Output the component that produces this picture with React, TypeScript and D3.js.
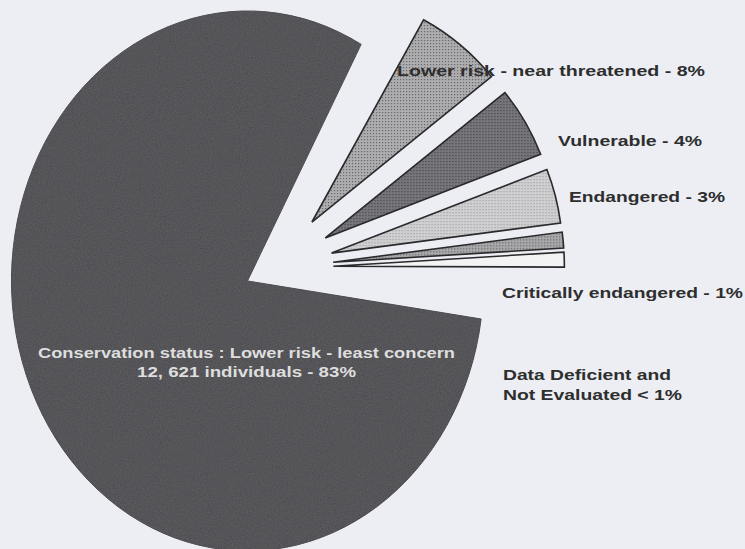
import * as d3 from 'd3';

// conservation status categories, in pie order
const statusLabels = [
  'Lower risk - least concern',
  'Lower risk - near threatened',
  'Vulnerable',
  'Endangered',
  'Critically endangered',
  'Data Deficient and Not Evaluated',
];

// share of the circle each slice takes up as drawn (%)
const drawnShares = [80.75, 6.14, 4.94, 3.81, 1.11, 1.03];

const labelLines = [
  ['Conservation status : Lower risk - least concern', '12, 621 individuals - 83%'],
  ['Lower risk - near threatened - 8%'],
  ['Vulnerable - 4%'],
  ['Endangered - 3%'],
  ['Critically endangered - 1%'],
  ['Data Deficient and', 'Not Evaluated < 1%'],
];

const W = 745;
const H = 549;
const deg = Math.PI / 180;

const center: [number, number] = [273.4, 268];
const mainRadius = 236;
const mainStretchY = 1.144; // the main disc is a little taller than wide
const mainExplode = 29;
const fanRadius = 231;
const fanExplode = 60;

const fills = ['#47474c', 'url(#dotLight)', 'url(#dotDark)', 'url(#dotPale)', 'url(#dotMid)', '#f3f3f3'];

const labelLayout = [
  { x: 246.5, y: 358, anchor: 'middle', widths: [417, 219], color: '#dedede', size: 14 },
  { x: 397, y: 76, anchor: 'start', widths: [308], color: '#2e2e2e', size: 15 },
  { x: 558, y: 146, anchor: 'start', widths: [144], color: '#2e2e2e', size: 15 },
  { x: 569, y: 202, anchor: 'start', widths: [156], color: '#2e2e2e', size: 15 },
  { x: 502, y: 298, anchor: 'start', widths: [241], color: '#2e2e2e', size: 15 },
  { x: 503, y: 380, anchor: 'start', widths: [168, 179], color: '#2e2e2e', size: 15 },
];

const bisector = (d: d3.PieArcDatum<number>) => (d.startAngle + d.endAngle) / 2;

export default function App() {
  // main slice: its own pie so the exploded fan can sit in the gap
  const mainPie = d3.pie<number>().sort(null).startAngle(98.1 * deg).endAngle(98.1 * deg + 2 * Math.PI);
  const mainArcs = mainPie([drawnShares[0], 100 - drawnShares[0]]);
  const mainSlice = mainArcs[0];
  const mainPath = d3.arc<d3.PieArcDatum<number>>().innerRadius(0).outerRadius(mainRadius)(mainSlice) || '';
  const mb = bisector(mainSlice);
  const mainX = center[0] + mainExplode * Math.sin(mb);
  const mainY = center[1] - mainExplode * Math.cos(mb);

  const fanPie = d3.pie<number>().sort(null).startAngle(28.9 * deg).endAngle(90.2 * deg);
  const fanArcs = fanPie(drawnShares.slice(1));
  const fanArc = d3.arc<d3.PieArcDatum<number>>().innerRadius(0).outerRadius(fanRadius);

  return (
    <svg width={W} height={H} style={{ position: 'absolute', left: 0, top: 0, background: '#eceef4' }}>
      <defs>
        <pattern id="dotLight" width="3" height="3" patternUnits="userSpaceOnUse">
          <rect width="3" height="3" fill="#aeaeb0" />
          <rect x="1" y="1" width="1.2" height="1.2" fill="#65656a" />
        </pattern>
        <pattern id="dotDark" width="3" height="3" patternUnits="userSpaceOnUse">
          <rect width="3" height="3" fill="#78787c" />
          <rect x="1" y="1" width="1.3" height="1.3" fill="#46464a" />
        </pattern>
        <pattern id="dotPale" width="3" height="3" patternUnits="userSpaceOnUse">
          <rect width="3" height="3" fill="#d0d0d2" />
          <rect x="1" y="1" width="1.1" height="1.1" fill="#96969a" />
        </pattern>
        <pattern id="dotMid" width="3" height="3" patternUnits="userSpaceOnUse">
          <rect width="3" height="3" fill="#a8a8aa" />
          <rect x="1" y="1" width="1.2" height="1.2" fill="#68686c" />
        </pattern>
        <filter id="grain" x="0" y="0" width="100%" height="100%">
          <feTurbulence type="fractalNoise" baseFrequency="0.85" numOctaves="2" seed="3" result="n" />
          <feColorMatrix in="n" type="matrix" values="0 0 0 0 0.55  0 0 0 0 0.55  0 0 0 0 0.58  0 0 0 0.12 0" result="g" />
          <feComposite in="g" in2="SourceGraphic" operator="in" result="gi" />
          <feMerge>
            <feMergeNode in="SourceGraphic" />
            <feMergeNode in="gi" />
          </feMerge>
        </filter>
      </defs>
      <rect width={W} height={H} fill="#eceef4" />

      <g transform={`translate(${mainX},${mainY}) scale(1,${mainStretchY})`}>
        <path
          d={mainPath}
          fill={fills[0]}
          stroke="#3a3a3e"
          strokeWidth={1}
          vectorEffect="non-scaling-stroke"
          filter="url(#grain)"
        >
          <title>{statusLabels[0]}</title>
        </path>
      </g>

      {fanArcs.map((d, i) => {
        const b = bisector(d);
        const x = center[0] + fanExplode * Math.sin(b);
        const y = center[1] - fanExplode * Math.cos(b);
        return (
          <path
            key={i}
            transform={`translate(${x},${y})`}
            d={fanArc(d) || ''}
            fill={fills[i + 1]}
            stroke="#2a2a2c"
            strokeWidth={1.6}
            strokeLinejoin="miter"
          >
            <title>{statusLabels[i + 1]}</title>
          </path>
        );
      })}

      {labelLines.map((lines, i) => {
        const l = labelLayout[i];
        return (
          <g key={i} fontFamily="'Liberation Sans', Arial, sans-serif" fontWeight="bold" fontSize={l.size} fill={l.color}>
            {lines.map((t, j) => (
              <text
                key={j}
                x={l.x}
                y={l.y + j * (i === 0 ? 19 : 20)}
                textAnchor={l.anchor}
                textLength={l.widths[j]}
                lengthAdjust="spacingAndGlyphs"
              >
                {t}
              </text>
            ))}
          </g>
        );
      })}
    </svg>
  );
}
